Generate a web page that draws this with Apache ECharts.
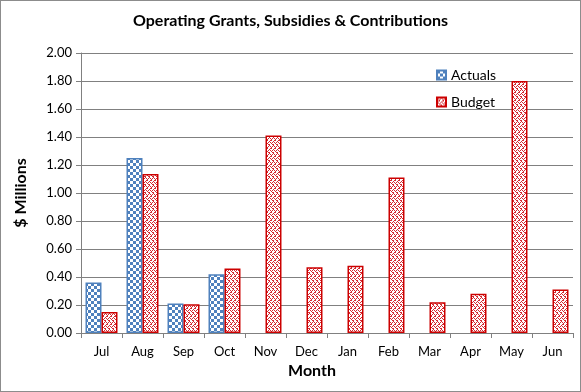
<!DOCTYPE html>
<html><head><meta charset="utf-8">
<script src="https://cdn.jsdelivr.net/npm/echarts@6/dist/echarts.min.js"></script>
<style>html,body{margin:0;padding:0;background:#fff}#c{width:579px;height:390px;border:1px solid #8c8c8c}</style>
</head><body><div id="c"></div>
<script>
const months = ['Jul','Aug','Sep','Oct','Nov','Dec','Jan','Feb','Mar','Apr','May','Jun'];
const actuals = [0.36,1.25,0.21,0.42,null,null,null,null,null,null,null,null];
const budget = [0.15,1.135,0.205,0.46,1.41,0.47,0.48,1.11,0.22,0.28,1.80,0.31];
const yTicks = {min:0,max:2,interval:0.2};

function checker(){
  const c=document.createElement('canvas');c.width=6;c.height=6;
  const g=c.getContext('2d');g.fillStyle='#ffffff';g.fillRect(0,0,6,6);
  g.fillStyle='#4F81BD';g.fillRect(0,0,3,3);g.fillRect(3,3,3,3);
  return c;
}
function zig(){
  const c=document.createElement('canvas');c.width=8;c.height=8;
  const g=c.getContext('2d');g.fillStyle='#ffffff';g.fillRect(0,0,8,8);
  g.fillStyle='#D42A32';
  const px=[[0,0],[1,1],[2,2],[3,1],[4,0],[5,1],[6,2],[7,1],[0,4],[1,5],[2,6],[3,5],[4,4],[5,5],[6,6],[7,5],[2,3],[6,3],[0,7],[4,7],[1,3],[5,3],[3,7],[7,7]];
  px.forEach(p=>g.fillRect(p[0],p[1],1,1));
  return c;
}
const chart=echarts.init(document.getElementById('c'),null,{renderer:'canvas'});
const font='Lato, "Liberation Sans", sans-serif';
chart.setOption({
  animation:false,
  textStyle:{fontFamily:font},
  title:{text:'Operating Grants, Subsidies & Contributions',left:'center',top:7,textStyle:{fontSize:16,fontWeight:'bold',color:'#000',fontFamily:font}},
  legend:{orient:'vertical',left:430,top:62,itemGap:13,itemWidth:9,itemHeight:9,icon:'rect',textStyle:{fontSize:14,color:'#000'},data:['Actuals','Budget']},
  grid:{left:80,right:7,top:52,bottom:58},
  xAxis:{type:'category',data:months,name:'Month',nameLocation:'middle',nameGap:27,
    nameTextStyle:{fontSize:16,fontWeight:'bold',color:'#000',padding:[0,30,0,0]},
    axisLine:{lineStyle:{color:'#808080'}},axisTick:{show:true,length:5,lineStyle:{color:'#808080'}},
    axisLabel:{fontSize:13,color:'#000',margin:12}},
  yAxis:{type:'value',min:yTicks.min,max:yTicks.max,interval:yTicks.interval,name:'$ Millions',nameLocation:'middle',nameGap:52,
    nameTextStyle:{fontSize:16,fontWeight:'bold',color:'#000'},
    axisLine:{show:true,lineStyle:{color:'#808080'}},axisTick:{show:true,length:5,lineStyle:{color:'#808080'}},
    axisLabel:{fontSize:13,color:'#000',margin:9,formatter:v=>v.toFixed(2)},
    splitLine:{lineStyle:{color:'#808080',width:1}}},
  series:[
    {name:'Actuals',type:'bar',data:actuals,barWidth:'39%',barGap:'0%',
     itemStyle:{color:{image:checker(),repeat:'repeat'},borderColor:'#4F81BD',borderWidth:1.5}},
    {name:'Budget',type:'bar',data:budget,barWidth:'39%',
     itemStyle:{color:{image:zig(),repeat:'repeat'},borderColor:'#CC0000',borderWidth:1.5}}
  ]
});
</script></body></html>
